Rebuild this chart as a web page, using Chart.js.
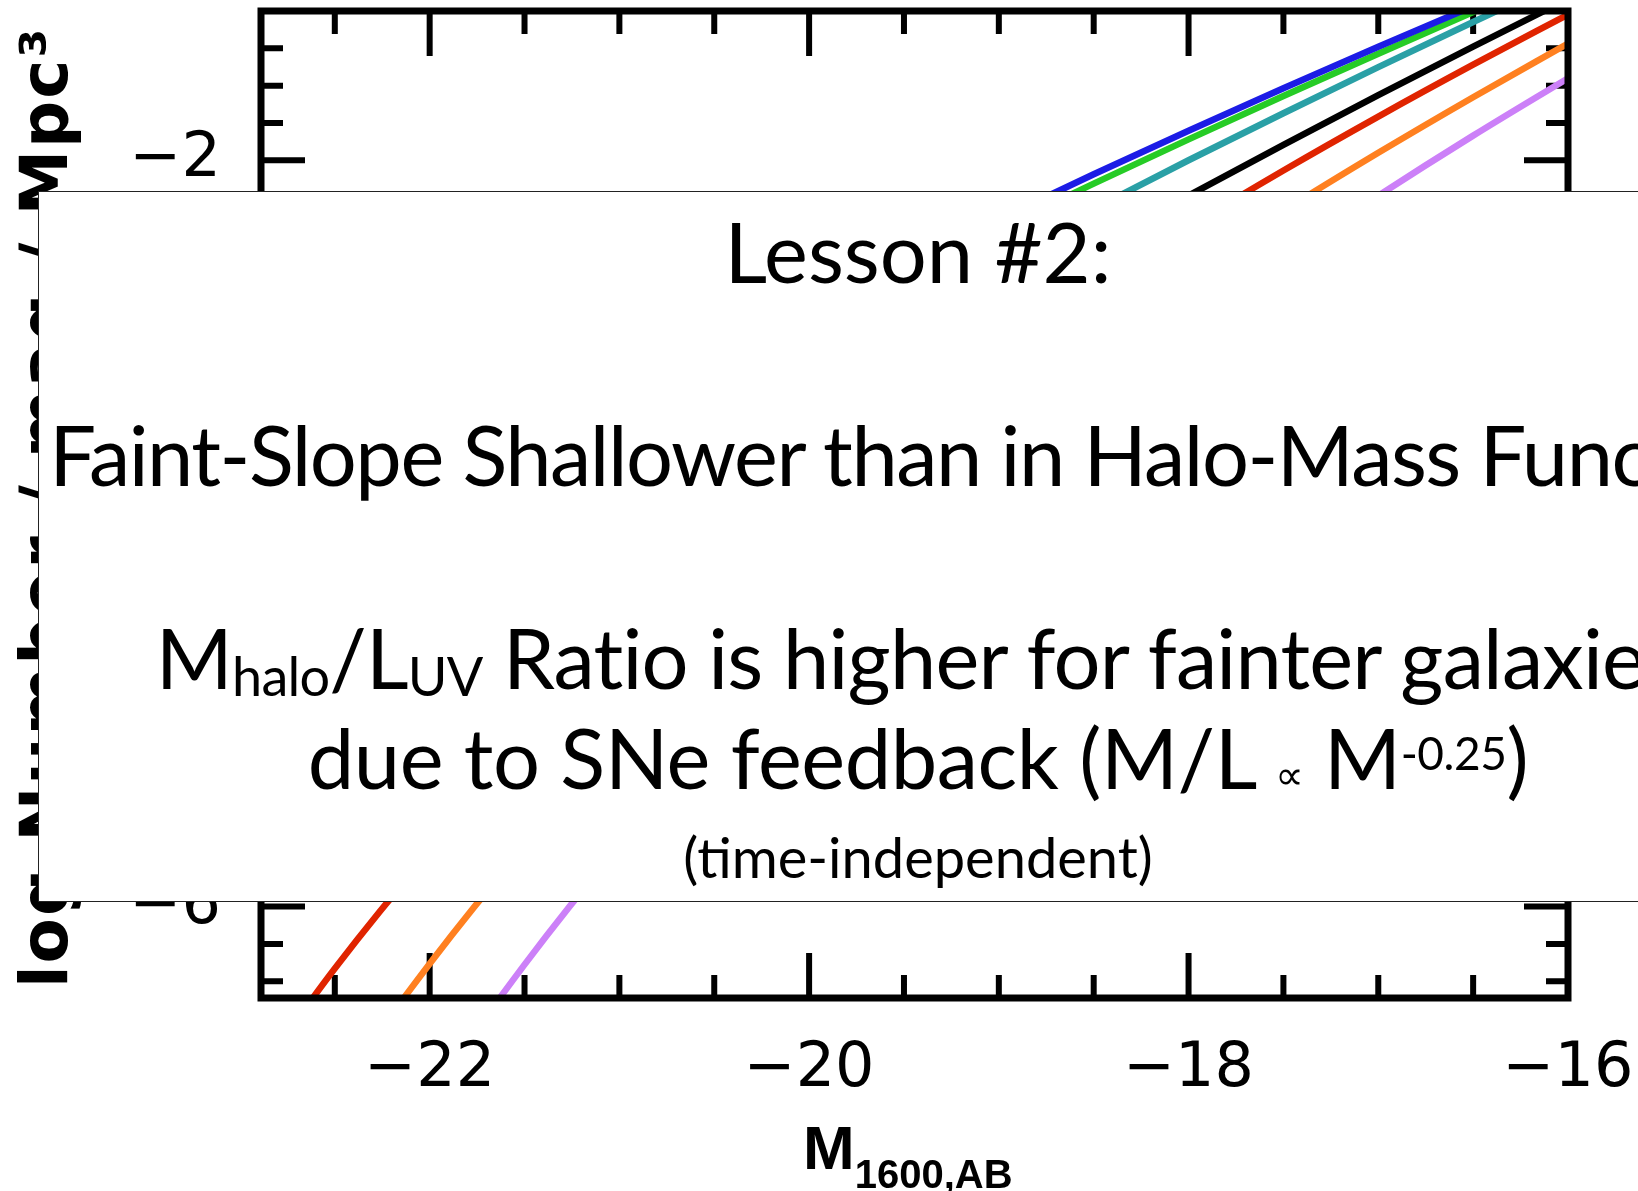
<!DOCTYPE html>
<html lang="en">
<head>
  <meta charset="UTF-8">
  <title>Lesson #2 - UV luminosity functions</title>
  <script src="https://cdn.jsdelivr.net/npm/chart.js"></script>
  <style>
    html, body {
      margin: 0;
      padding: 0;
      background: #fff;
      overflow: hidden;
      width: 1638px;
      height: 1191px;
    }
    #lfChart {
      position: absolute;
      left: 0;
      top: 0;
    }
    .ytitle {
      position: absolute;
      left: 12px;
      top: 988px;
      transform-origin: left top;
      transform: rotate(-90deg);
      font: bold 66px 'DejaVu Sans', sans-serif;
      line-height: 1;
      letter-spacing: 2px;
      white-space: nowrap;
      color: #000;
    }
    .xtitle {
      position: absolute;
      left: 803px;
      top: 1117px;
      font: bold 62px 'Liberation Sans', Arial, sans-serif;
      line-height: 1;
      white-space: nowrap;
      color: #000;
    }
    .xtitle span {
      font-size: 40px;
      position: relative;
      top: 19px;
    }
    .lesson {
      position: absolute;
      left: 38px;
      top: 191px;
      width: 1700px;
      height: 711px;
      box-sizing: border-box;
      border: 1.5px solid #222;
      background: #fff;
    }
    .line {
      position: absolute;
      left: -82px;
      width: 2000px;
      text-align: center;
      font-family: Lato, 'Open Sans', sans-serif;
      font-size: 83px;
      line-height: 1;
      white-space: nowrap;
      color: #000;
    }
    .sub { font-size: 54px; vertical-align: -7px; }
    .sup { font-size: 46px; vertical-align: 19px; }
    .prop { font-family: 'DejaVu Sans', sans-serif; font-size: 40px; }
  </style>
</head>
<body>
  <canvas id="lfChart" width="1638" height="1191"></canvas>

  <div class="ytitle">log Number / mag / Mpc³</div>
  <div class="xtitle">M<span>1600,AB</span></div>

  <div class="lesson"></div>
  <div class="line" style="top:210px">Lesson #2:</div>
  <div class="line" style="top:413px; letter-spacing:-1.5px">Faint-Slope Shallower than in Halo-Mass Function</div>
  <div class="line" style="top:616px; letter-spacing:-0.8px">M<span class="sub">halo</span>/L<span class="sub">UV</span> Ratio is higher for fainter galaxies</div>
  <div class="line" style="top:716px; letter-spacing:-0.45px">due to SNe feedback (M/L <span class="prop">∝</span> M<span class="sup">-0.25</span>)</div>
  <div class="line" style="top:829px; font-size:56px">(time-independent)</div>

  <script>
    // absolute magnitude grid (M_1600,AB)
    const mags = [-23, -22.5, -22, -21.5, -21, -20.5, -20, -19.5, -19, -18.5, -18, -17.5, -17, -16.5, -16];

    // log number density, one curve per colour
    const blueLF   = [-4.70, -4.34, -4.016, -3.690, -3.386, -3.099, -2.826, -2.566, -2.316, -2.075, -1.842, -1.614, -1.392, -1.174, -0.959];
    const greenLF  = [-4.742, -4.379, -4.043, -3.727, -3.430, -3.147, -2.878, -2.618, -2.368, -2.125, -1.888, -1.656, -1.429, -1.206, -0.986];
    const tealLF   = [-5.245, -4.818, -4.425, -4.060, -3.720, -3.399, -3.095, -2.806, -2.528, -2.260, -2.000, -1.748, -1.501, -1.259, -1.022];
    const blackLF  = [-5.822, -5.331, -4.882, -4.469, -4.086, -3.727, -3.390, -3.070, -2.765, -2.472, -2.190, -1.917, -1.651, -1.391, -1.136];
    const redLF    = [-7.034, -6.332, -5.707, -5.147, -4.643, -4.184, -3.763, -3.375, -3.015, -2.677, -2.358, -2.055, -1.766, -1.488, -1.219];
    const orangeLF = [-7.807, -7.011, -6.306, -5.677, -5.113, -4.602, -4.137, -3.709, -3.314, -2.945, -2.599, -2.271, -1.960, -1.662, -1.374];
    const violetLF = [-8.744, -7.830, -7.025, -6.311, -5.673, -5.099, -4.579, -4.104, -3.667, -3.262, -2.883, -2.527, -2.190, -1.868, -1.560];

    // tick positions
    const xMajor = [-22, -20, -18, -16];
    const xMinor = [-22.5, -21.5, -21, -20.5, -19.5, -19, -18.5, -17.5, -17, -16.5];
    const yMajor = [-6, -5, -4, -3, -2];
    const yMinor = [-6.4, -6.2, -5.8, -5.6, -5.4, -5.2, -4.8, -4.6, -4.4, -4.2,
                    -3.8, -3.6, -3.4, -3.2, -2.8, -2.6, -2.4, -2.2, -1.8, -1.6, -1.4];

    function pts(vals) {
      return mags.map((m, i) => ({ x: m, y: vals[i] }));
    }

    function curve(label, vals, color) {
      return {
        label: label,
        data: pts(vals),
        borderColor: color,
        borderWidth: 6.5,
        pointRadius: 0,
        fill: false,
        cubicInterpolationMode: 'monotone'
      };
    }

    // inward ticks on all four sides + heavy frame, IDL style
    const frameTicks = {
      id: 'frameTicks',
      beforeDatasetsDraw(chart) {
        const { ctx, chartArea: a, scales: { x, y } } = chart;
        ctx.save();
        ctx.strokeStyle = '#000';
        ctx.lineWidth = 6;
        ctx.beginPath();
        const xt = (v, len) => {
          const px = x.getPixelForValue(v);
          ctx.moveTo(px, a.bottom); ctx.lineTo(px, a.bottom - len);
          ctx.moveTo(px, a.top); ctx.lineTo(px, a.top + len);
        };
        const yt = (v, len) => {
          const py = y.getPixelForValue(v);
          ctx.moveTo(a.left, py); ctx.lineTo(a.left + len, py);
          ctx.moveTo(a.right, py); ctx.lineTo(a.right - len, py);
        };
        xMinor.forEach(v => xt(v, 23));
        xMajor.forEach(v => xt(v, 45));
        yMinor.forEach(v => yt(v, 22));
        yMajor.forEach(v => yt(v, 44));
        ctx.stroke();
        ctx.restore();
      },
      afterDatasetsDraw(chart) {
        const { ctx, chartArea: a } = chart;
        ctx.save();
        ctx.strokeStyle = '#000';
        ctx.lineWidth = 7;
        ctx.strokeRect(a.left, a.top, a.right - a.left, a.bottom - a.top);
        ctx.restore();
      }
    };

    const minus = v => (v < 0 ? '\u2212' + Math.abs(v) : '' + v);

    // pin the plot box: no extra room for half-labels
    function noPad(s) {
      s.paddingLeft = 0;
      s.paddingRight = 0;
      s.paddingTop = 0;
      s.paddingBottom = 0;
    }

    const tickFont = { family: "'DejaVu Sans', sans-serif", size: 62, weight: 'normal' };

    new Chart(document.getElementById('lfChart'), {
      type: 'line',
      data: {
        datasets: [
          curve('blue', blueLF, '#1c1ce6'),
          curve('green', greenLF, '#26cc26'),
          curve('teal', tealLF, '#2aa0a6'),
          curve('black', blackLF, '#000000'),
          curve('red', redLF, '#e02400'),
          curve('orange', orangeLF, '#ff8020'),
          curve('violet', violetLF, '#cc80f8')
        ]
      },
      options: {
        responsive: false,
        animation: false,
        devicePixelRatio: 1,
        layout: { padding: { left: 0, top: 11, right: 70, bottom: 0 } },
        plugins: {
          legend: { display: false },
          tooltip: { enabled: false }
        },
        scales: {
          x: {
            type: 'linear',
            min: -22.889,
            max: -16,
            grid: { display: false, drawTicks: false },
            border: { display: false },
            afterBuildTicks: s => { s.ticks = xMajor.map(v => ({ value: v })); },
            afterFit: s => { s.height = 193; noPad(s); },
            ticks: {
              autoSkip: false,
              maxRotation: 0,
              padding: 35,
              color: '#000',
              font: tickFont,
              callback: v => minus(v)
            }
          },
          y: {
            type: 'linear',
            min: -6.49,
            max: -1.2,
            grid: { display: false, drawTicks: false },
            border: { display: false },
            afterBuildTicks: s => { s.ticks = yMajor.map(v => ({ value: v })); },
            afterFit: s => { s.width = 261; noPad(s); },
            ticks: {
              autoSkip: false,
              padding: 40,
              color: '#000',
              font: tickFont,
              callback: v => minus(v)
            }
          }
        }
      },
      plugins: [frameTicks]
    });
  </script>
</body>
</html>
